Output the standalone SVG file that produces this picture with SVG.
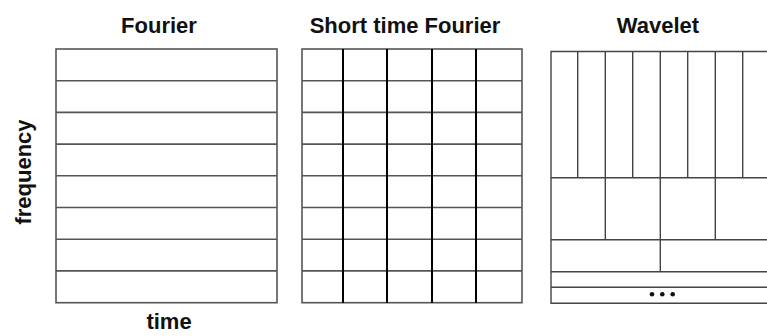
<svg xmlns="http://www.w3.org/2000/svg" width="767" height="336" viewBox="0 0 767 336">
  <style>
    .t { font-family: "Liberation Sans", Arial, sans-serif; font-weight: bold; font-size: 22px; fill: #111; text-anchor: middle; }
    .frame { fill: #fff; stroke: #555; stroke-width: 1.6; }
    .h { stroke: #555; stroke-width: 1.6; fill: none; }
    .v { stroke: #000; stroke-width: 2; fill: none; }
    .w { stroke: #444; stroke-width: 1.4; fill: none; }
    .dot { fill: #111; }
  </style>
  <rect width="767" height="336" fill="#fff"/>

  <g id="labels">
    <text class="t" x="159" y="33">Fourier</text>
    <text class="t" x="405" y="33">Short time Fourier</text>
    <text class="t" x="658" y="33">Wavelet</text>
    <text class="t" x="169" y="329">time</text>
    <text class="t" transform="translate(31,172) rotate(-90)">frequency</text>
  </g>

  <g id="fourier">
    <rect class="frame" x="56" y="49" width="221" height="253.7"/>
    <path class="h" d="M56 80.7H277M56 112.4H277M56 144.1H277M56 175.8H277M56 207.5H277M56 239.2H277M56 270.9H277"/>
  </g>

  <g id="stft">
    <rect class="frame" x="302" y="49" width="220" height="253.7"/>
    <path class="h" d="M302 80.7H522M302 112.4H522M302 144.1H522M302 175.8H522M302 207.5H522M302 239.2H522M302 270.9H522"/>
    <path class="v" d="M343 49V302.7M387 49V302.7M432 49V302.7M476 49V302.7"/>
  </g>

  <g id="wavelet">
    <path class="w" d="M772 51.5H551V303.3H772"/>
    <path class="w" d="M551 177.7H772M551 239.7H772M551 271.7H772M551 287.3H772"/>
    <path class="w" d="M577.7 51.5V177.7M605.3 51.5V239.7M632.7 51.5V177.7M660.3 51.5V271.7M687.7 51.5V177.7M715.3 51.5V239.7M742.7 51.5V177.7"/>
    <circle class="dot" cx="652" cy="294.3" r="2.3"/>
    <circle class="dot" cx="662.3" cy="294.3" r="2.3"/>
    <circle class="dot" cx="672.7" cy="294.3" r="2.3"/>
  </g>
</svg>
